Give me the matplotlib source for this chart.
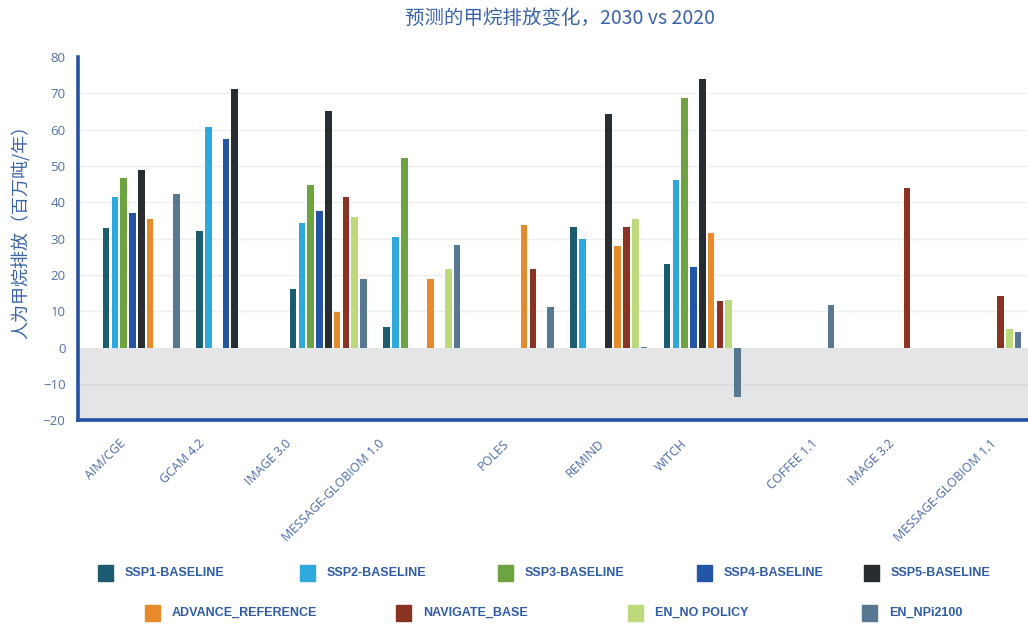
import numpy as np
import matplotlib
matplotlib.use("Agg")
import matplotlib.pyplot as plt
from matplotlib import font_manager
from matplotlib.patches import Rectangle

# models on the x axis
models = ["AIM/CGE", "GCAM 4.2", "IMAGE 3.0", "MESSAGE-GLOBIOM 1.0", "POLES",
          "REMIND", "WITCH", "COFFEE 1.1", "IMAGE 3.2", "MESSAGE-GLOBIOM 1.1"]

# scenario series (Mt/yr change), nan = no bar
nan = np.nan
ssp1 = [33.0, 32.1, 16.1, 5.8, nan, 33.1, 23.1, nan, nan, nan]
ssp2 = [41.6, 60.8, 34.3, 30.4, nan, 29.9, 46.2, nan, nan, nan]
ssp3 = [46.8, nan, 44.8, 52.2, nan, nan, 68.6, nan, nan, nan]
ssp4 = [37.1, 57.5, 37.5, nan, nan, nan, 22.2, nan, nan, nan]
ssp5 = [48.9, 71.2, 65.2, nan, nan, 64.4, 73.9, nan, nan, nan]
advance = [35.3, nan, 9.8, 18.9, 33.8, 28.0, 31.6, nan, nan, nan]
navigate = [nan, nan, 41.6, nan, 21.6, 33.3, 12.9, nan, 44.0, 14.2]
en_nopolicy = [nan, nan, 36.0, 21.6, nan, 35.5, 13.2, nan, nan, 5.2]
en_npi2100 = [42.3, nan, 18.9, 28.2, 11.1, 0.3, -13.5, 11.8, nan, 4.4]

series_names = ["SSP1-BASELINE", "SSP2-BASELINE", "SSP3-BASELINE", "SSP4-BASELINE",
                "SSP5-BASELINE", "ADVANCE_REFERENCE", "NAVIGATE_BASE",
                "EN_NO POLICY", "EN_NPi2100"]
series_vals = [ssp1, ssp2, ssp3, ssp4, ssp5, advance, navigate, en_nopolicy, en_npi2100]
colors = ["#1d5b6e", "#2fa9db", "#6da340", "#2255a4", "#272d30",
          "#e68a2b", "#8b3322", "#bdd97c", "#587791"]

# where each rotated model label ends (offset from the category centre)
label_shift = [-0.24, -0.39, -0.46, -0.47, -0.14, -0.12, -0.24, 0.16, -0.02, 0.07]

installed = {f.name for f in font_manager.fontManager.ttflist}
narrow = "Liberation Sans Narrow" if "Liberation Sans Narrow" in installed else "Liberation Sans"
plt.rcParams['font.family'] = ['Noto Sans CJK SC', 'DejaVu Sans']

blue_txt = "#2f5ca6"
tick_txt = "#5270a8"

fig = plt.figure(figsize=(10.28, 6.28), dpi=100)
ax = fig.add_axes([78/1028, 1-420.3/628, 1-78/1028, (420.3-57)/628])

x = np.arange(len(models))
slot = 0.0941
width = 0.0715
for k, (vals, col) in enumerate(zip(series_vals, colors)):
    ax.bar(x + (k-4)*slot, np.array(vals, dtype=float), width=width, color=col,
           zorder=3, linewidth=0)

ax.axhspan(-20, 0, color="#e4e5e7", zorder=0, linewidth=0)
for g in range(10, 80, 10):
    ax.axhline(g, color="#eeeeee", linewidth=1, zorder=1)
ax.axhline(-10, color="#d9dadc", linewidth=1, zorder=1)

ax.set_xlim(-0.677, 9.483)
ax.set_ylim(-20, 80)
ax.set_yticks(np.arange(-20, 81, 10))
ax.tick_params(axis='y', length=0, pad=9, labelsize=9.5, labelcolor=tick_txt)
for t in ax.get_yticklabels():
    t.set_family(['Open Sans', 'DejaVu Sans'])

ax.set_xticks(x + np.array(label_shift))
ax.set_xticklabels(models, rotation=45, ha='right', va='top', rotation_mode='anchor',
                   fontsize=9, color="#4a6aa8", family=['Open Sans', 'DejaVu Sans'])
ax.tick_params(axis='x', length=0, pad=12)

for s in ['top', 'right']:
    ax.spines[s].set_visible(False)
for s in ['left', 'bottom']:
    ax.spines[s].set_color("#2453a6")
    ax.spines[s].set_linewidth(2.6)
    ax.spines[s].set_zorder(5)

fig.text(560/1028, 1-18/628, "预测的甲烷排放变化，2030 vs 2020", ha='center', va='center',
         fontsize=14, color="#3a64a8")
fig.text(21/1028, 1-227/628, "人为甲烷排放（百万吨/年）", rotation=90, ha='center',
         va='center', fontsize=13, color="#3a64a8")

# legend laid out in two rows like the original
legend_rows = [(573, [98, 300, 498, 697, 864]), (613, [145, 396, 628, 862])]
k = 0
for yc, xs in legend_rows:
    for xl in xs:
        fig.patches.append(Rectangle((xl/1028, 1-(yc+8)/628), 15/1028, 16/628,
                                     transform=fig.transFigure, color=colors[k]))
        fig.text((xl+27)/1028, 1-yc/628, series_names[k], ha='left', va='center',
                 fontsize=9, fontweight='bold', color=blue_txt, family=[narrow, 'DejaVu Sans'])
        k += 1

fig.savefig("out.png", dpi=100)
